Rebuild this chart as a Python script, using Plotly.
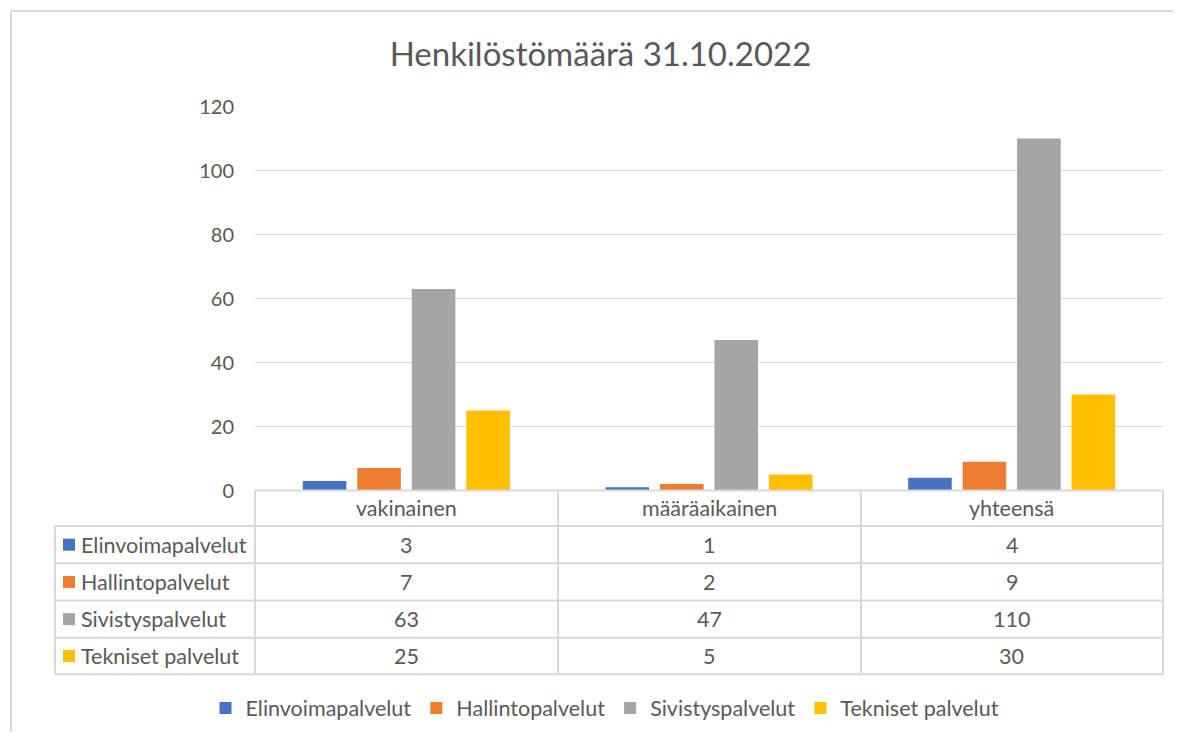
import plotly.graph_objects as go

categories = ["vakinainen", "määräaikainen", "yhteensä"]
series_names = ["Elinvoimapalvelut", "Hallintopalvelut", "Sivistyspalvelut", "Tekniset palvelut"]
elinvoima = [3, 1, 4]
hallinto = [7, 2, 9]
sivistys = [63, 47, 110]
tekniset = [25, 5, 30]
series_values = [elinvoima, hallinto, sivistys, tekniset]
colors = ["#4472C4", "#ED7D31", "#A5A5A5", "#FFC000"]
title_text = "Henkilöstömäärä 31.10.2022"

# page has 8px body margin: figure sized so it fits in the 1181x740 window
OFF = 8
W, H = 1181 - 2 * OFF, 740 - 2 * OFF
FONT = "Lato, 'Noto Sans', sans-serif"
TXT = "#595959"
LINE = "#d9d9d9"


def X(px):
    return (px - OFF) / W


def Y(py):
    return 1 - (py - OFF) / H


fig = go.Figure()
for name, vals, col in zip(series_names, series_values, colors):
    fig.add_trace(go.Bar(x=categories, y=vals, name=name, marker_color=col,
                         marker_line_width=0))

# plot geometry (window pixels)
px_left, px_right = 255, 1163
py_zero, py_top = 490.5, 106.5
table_left = 55
row_lines = [490.5, 526, 563.3, 600.6, 637.7, 674.3]
col_lines = [255, 558, 861, 1163]

shapes = []
# outer chart frame
shapes.append(dict(type="rect", xref="paper", yref="paper", x0=X(11), x1=X(1200),
                   y0=Y(760), y1=Y(11), line=dict(color=LINE, width=2)))
# table horizontal lines
for i, ry in enumerate(row_lines):
    x0 = px_left if i == 0 else table_left
    shapes.append(dict(type="line", xref="paper", yref="paper", x0=X(x0), x1=X(px_right),
                       y0=Y(ry), y1=Y(ry), line=dict(color=LINE, width=2)))
# vertical lines
for cx in col_lines:
    shapes.append(dict(type="line", xref="paper", yref="paper", x0=X(cx), x1=X(cx),
                       y0=Y(row_lines[0]), y1=Y(row_lines[-1]), line=dict(color=LINE, width=2)))
shapes.append(dict(type="line", xref="paper", yref="paper", x0=X(table_left), x1=X(table_left),
                   y0=Y(row_lines[1]), y1=Y(row_lines[-1]), line=dict(color=LINE, width=2)))

FS = 21.5
annotations = []
hdr_c = (row_lines[0] + row_lines[1]) / 2
for cat in categories:
    annotations.append(dict(x=cat, xref="x", y=Y(hdr_c), yref="paper", text=cat,
                            showarrow=False, xanchor="center", yanchor="middle",
                            font=dict(family=FONT, size=FS, color=TXT)))
for i, (name, vals, col) in enumerate(zip(series_names, series_values, colors)):
    rc = (row_lines[i + 1] + row_lines[i + 2]) / 2
    shapes.append(dict(type="rect", xref="paper", yref="paper", x0=X(63), x1=X(75),
                       y0=Y(rc + 6), y1=Y(rc - 6), fillcolor=col, line=dict(width=0)))
    annotations.append(dict(x=X(79), xref="paper", y=Y(rc), yref="paper", text=name,
                            showarrow=False, xanchor="left", yanchor="middle",
                            font=dict(family=FONT, size=FS, color=TXT)))
    for cat, v in zip(categories, vals):
        annotations.append(dict(x=cat, xref="x", y=Y(rc), yref="paper", text=str(v),
                                showarrow=False, xanchor="center", yanchor="middle",
                                font=dict(family=FONT, size=FS, color=TXT)))

fig.update_layout(
    width=W, height=H,
    margin=dict(l=0, r=0, t=0, b=0, pad=0, autoexpand=False),
    paper_bgcolor="white", plot_bgcolor="white",
    barmode="group", bargap=0.28, bargroupgap=0.2,
    title=dict(text=title_text, x=X(600.5), y=Y(54), xanchor="center", yanchor="middle",
               xref="paper", yref="paper", automargin=False,
               font=dict(family=FONT, size=33, color=TXT)),
    xaxis=dict(domain=[X(px_left), X(px_right)], range=[-0.5, 2.5], showticklabels=False,
               showgrid=False, zeroline=False, showline=False, ticks="", automargin=False),
    yaxis=dict(domain=[Y(py_zero), Y(py_top)], range=[0, 120], dtick=20,
               showgrid=True, gridcolor=LINE, gridwidth=1.3, zeroline=False,
               showline=False, ticks="", ticklabelstandoff=20, automargin=False,
               tickfont=dict(family=FONT, size=20, color=TXT)),
    legend=dict(orientation="h", x=X(605), xanchor="center", y=Y(708), yanchor="middle",
                font=dict(family=FONT, size=FS, color=TXT), itemclick=False,
                traceorder="normal"),
    shapes=shapes, annotations=annotations,
)

fig.write_html("out.html")
